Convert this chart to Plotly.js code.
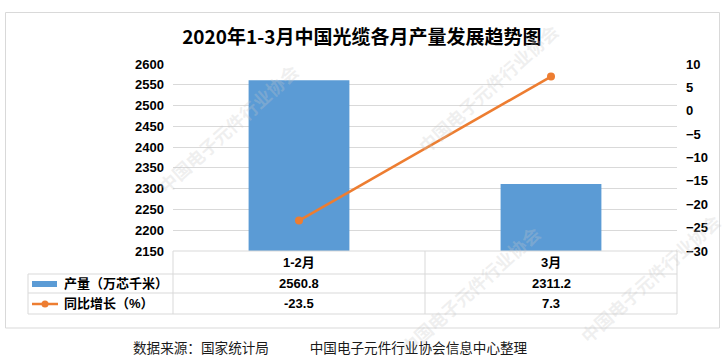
<!DOCTYPE html>
<html>
<head>
<meta charset="utf-8">
<script src="https://cdn.plot.ly/plotly-3.0.1.min.js"></script>
<style>
html,body{margin:0;padding:0;background:#fff;}
#chart{width:728px;height:364px;}
</style>
</head>
<body>
<div id="chart"></div>
<script>
const categories = ['1-2月', '3月'];
const production = [2560.8, 2311.2];
const growth = [-23.5, 7.3];
const seriesNames = ['产量（万芯千米）', '同比增长（%）'];
const titleText = '2020年1-3月中国光缆各月产量发展趋势图';
const sourceText = '数据来源：国家统计局　　　中国电子元件行业协会信息中心整理';
const watermarkText = '中国电子元件行业协会';

const W = 728, H = 364;
const L = 173, R = 677, T = 64, B = 251;
const pw = R - L, ph = B - T;
const px = v => (v - L) / pw;
const py = v => (B - v) / ph;

const FONT = '"Liberation Sans", "Noto Sans CJK SC", sans-serif';
const CJK = '"Noto Sans CJK SC", sans-serif';
const gridC = '#d9d9d9';
const barC = '#5B9BD5';
const lineC = '#ED7D31';

const traces = [
  {type: 'bar', x: categories, y: production, width: 0.4, marker: {color: barC},
   name: seriesNames[0], hoverinfo: 'skip', yaxis: 'y'},
  {type: 'scatter', mode: 'lines+markers', x: categories, y: growth, yaxis: 'y2',
   line: {color: lineC, width: 2.5}, marker: {color: lineC, size: 8},
   name: seriesNames[1], hoverinfo: 'skip'}
];

const shapes = [];
const line = (x0, y0, x1, y1, c, w) => shapes.push({type: 'line', xref: 'paper', yref: 'paper',
  x0: px(x0), y0: py(y0), x1: px(x1), y1: py(y1), line: {color: c || gridC, width: w || 1}});
// outer border
shapes.push({type: 'rect', xref: 'paper', yref: 'paper', x0: px(5.5), x1: px(719.5), y0: py(12.5), y1: py(328),
  line: {color: '#d9d9d9', width: 1}, fillcolor: 'rgba(0,0,0,0)', layer: 'below'});
// table
line(L, 251, R, 251);
[274, 293, 314].forEach(y => line(28, y, R, y));
line(28, 274, 28, 314);
[L, (L + R) / 2, R].forEach(x => line(x, 251, x, 314));
// legend symbols
shapes.push({type: 'rect', xref: 'paper', yref: 'paper', x0: px(32), x1: px(57), y0: py(281), y1: py(287),
  fillcolor: barC, line: {width: 0}});
line(32, 304, 58, 304, lineC, 2.5);
shapes.push({type: 'circle', xref: 'paper', yref: 'paper', x0: px(41.5), x1: px(48.5), y0: py(300.5), y1: py(307.5),
  fillcolor: lineC, line: {width: 0}});

const annotations = [];
// faint watermarks
[[228, 128], [488, 88], [470, 290], [650, 278]].forEach(p => annotations.push({
  xref: 'paper', yref: 'paper', x: px(p[0]), y: py(p[1]), xanchor: 'center', yanchor: 'middle', showarrow: false,
  text: '<b>' + watermarkText + '</b>', textangle: -42,
  font: {family: CJK, size: 18, color: 'rgba(200,200,200,0.28)'}
}));
const cell = (xref, x, y, txt, anchor) => annotations.push({xref: xref, yref: 'paper', x: x, y: py(y),
  xanchor: anchor || 'center', yanchor: 'middle', showarrow: false,
  text: '<b>' + txt + '</b>', font: {family: FONT, size: 13, color: '#000'}});
// header categories and values
categories.forEach((c, i) => {
  cell('x', c, 262.5, c);
  cell('x', c, 283.5, production[i].toFixed(1));
  cell('x', c, 303.5, growth[i].toFixed(1));
});
// legend texts
[283.5, 303.5].forEach((y, i) => cell('paper', px(62), y, seriesNames[i], 'left'));
// source
annotations.push({xref: 'paper', yref: 'paper', x: px(131), y: py(346.5), xanchor: 'left', yanchor: 'middle',
  showarrow: false, text: sourceText, font: {family: CJK, size: 13.6, color: '#1a1a1a'}});

const layout = {
  width: W, height: H,
  margin: {l: L, r: W - R, t: T, b: H - B, pad: 0},
  paper_bgcolor: '#fff', plot_bgcolor: '#fff',
  showlegend: false,
  title: {text: '<b>' + titleText + '</b>', x: 0.497, xanchor: 'center', xref: 'container',
    y: 1 - 37 / H, yanchor: 'middle', yref: 'container',
    font: {family: CJK, size: 19, color: '#000'}},
  xaxis: {type: 'category', range: [-0.5, 1.5], showticklabels: false, showgrid: false,
    zeroline: false, showline: false, ticks: ''},
  yaxis: {range: [2150, 2600], dtick: 50, tick0: 2150, showgrid: true, gridcolor: gridC, gridwidth: 1,
    zeroline: false, showline: false, ticks: '', ticklabelstandoff: 8,
    tickfont: {family: FONT, size: 13, color: '#000', weight: 'bold'}},
  yaxis2: {range: [-30, 10], dtick: 5, tick0: -30, overlaying: 'y', side: 'right', showgrid: false,
    zeroline: false, showline: false, ticks: '', ticklabelstandoff: 8,
    tickfont: {family: FONT, size: 13, color: '#000', weight: 'bold'}},
  shapes: shapes,
  annotations: annotations
};

Plotly.newPlot('chart', traces, layout, {staticPlot: true, displayModeBar: false});
</script>
</body>
</html>
